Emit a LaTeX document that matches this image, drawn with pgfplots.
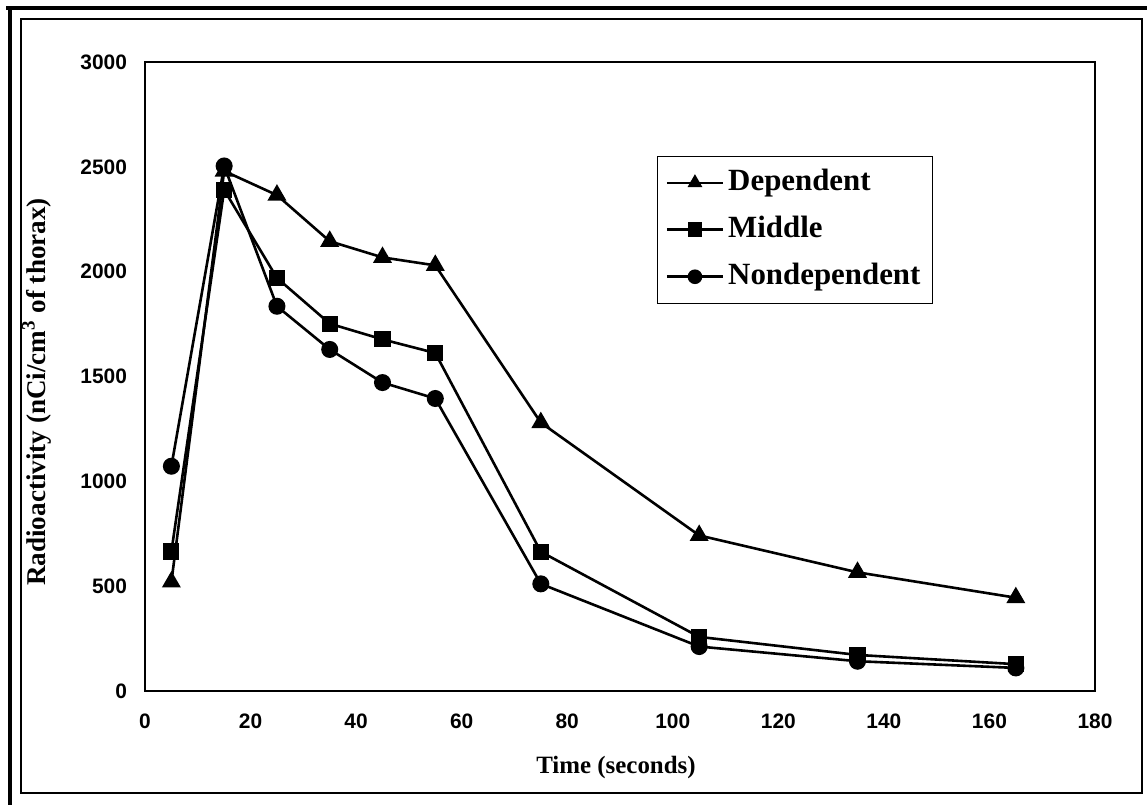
\documentclass[border=0pt]{standalone}
\usepackage{pgfplots}
\pgfplotsset{compat=1.18}
\usepackage{fontspec}
\setmainfont{Liberation Serif}
\setsansfont{Liberation Sans}

\pgfplotstableread{
x y
5 520
15 2480
25 2365
35 2145
45 2068
55 2030
75 1280
105 742
135 566
165 445
}\depdata
\pgfplotstableread{
x y
5 665
15 2390
25 1970
35 1752
45 1677
55 1612
75 664
105 258
135 172
165 128
}\middata
\pgfplotstableread{
x y
5 1072
15 2504
25 1835
35 1629
45 1471
55 1395
75 511
105 212
135 142
165 110
}\nondepdata

\begin{document}
\begin{tikzpicture}
\useasboundingbox (0bp,0bp) rectangle (573.5bp,402.5bp);
\fill[white] (0bp,0bp) rectangle (573.5bp,402.5bp);
% outer frames
\draw[line width=2bp] (3bp,398.5bp) -- (573.5bp,398.5bp);
\draw[line width=2.2bp] (5bp,0bp) -- (5bp,399.5bp);
\draw[line width=0.8bp] (10.5bp,6bp) rectangle (571bp,393bp);
\begin{axis}[
  at={(72.5bp,57bp)}, anchor=south west,
  scale only axis, width=475bp, height=314.5bp,
  xmin=0, xmax=180, ymin=0, ymax=3000,
  xtick={0,20,...,180}, ytick={0,500,...,3000},
  major tick length=0,
  axis line style={line width=0.6bp},
  tick label style={font=\sffamily\bfseries\fontsize{10.5}{12}\selectfont},
  /pgf/number format/assume math mode=true,
  /pgf/number format/1000 sep={},
  xticklabel style={yshift=-8bp},
  yticklabel style={xshift=-5.5bp},
  every axis plot/.append style={black, line width=1.3bp, mark options={solid, fill=black}},
  legend style={at={(0.539,0.851)}, anchor=north west, draw=black, line width=0.6bp,
    font=\bfseries\fontsize{15.5}{18}\selectfont,
    inner xsep=4bp, inner ysep=4bp, row sep=5bp,
    nodes={text height=11bp, text depth=3.5bp},
    cells={anchor=west}},
  legend image code/.code={\draw[mark repeat=2,mark phase=2, mark size=3bp] plot coordinates {(0bp,0bp) (14bp,0bp) (28bp,0bp)};},
]
\addplot[mark=triangle*, mark size=4.2bp] table[x=x,y=y] {\depdata};
\addlegendentry{Dependent}
\addplot[mark=square*, mark size=3.4bp] table[x=x,y=y] {\middata};
\addlegendentry{Middle}
\addplot[mark=*, mark size=3.6bp] table[x=x,y=y] {\nondepdata};
\addlegendentry{Nondependent}
\end{axis}
\node[rotate=90, anchor=base, font=\bfseries\fontsize{13.6}{15}\selectfont] at (22.5bp,206.5bp) {Radioactivity (nCi/cm\textsuperscript{3} of thorax)};
\node[anchor=base, font=\bfseries\fontsize{12.5}{15}\selectfont] at (308bp,16bp) {Time (seconds)};
\end{tikzpicture}
\end{document}
